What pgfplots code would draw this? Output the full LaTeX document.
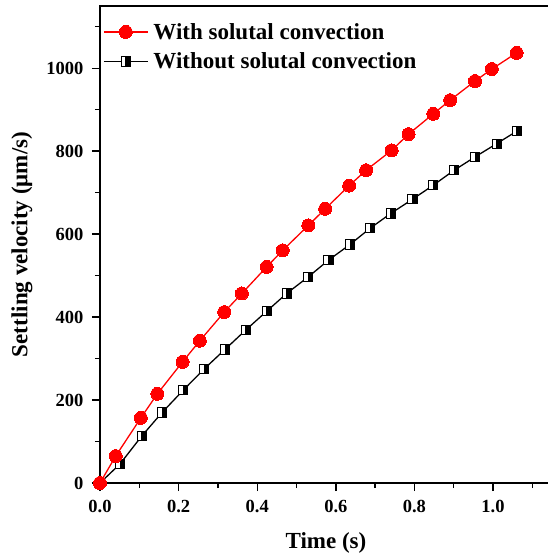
\documentclass[border=0pt]{standalone}
\usepackage{pgfplots}
\pgfplotsset{compat=1.18}
\usepackage{pgfplotstable}
\usepackage{fontspec}
\setmainfont{Liberation Serif}

\pgfdeclareplotmark{hsq}{%
  \pgfpathrectangle{\pgfqpoint{-\pgfplotmarksize}{-\pgfplotmarksize}}{\pgfqpoint{2\pgfplotmarksize}{2\pgfplotmarksize}}%
  \pgfsetfillcolor{white}\pgfusepathqfillstroke
  \pgfpathrectangle{\pgfqpoint{0pt}{-\pgfplotmarksize}}{\pgfqpoint{\pgfplotmarksize}{2\pgfplotmarksize}}%
  \pgfsetfillcolor{black}\pgfusepathqfillstroke
}

\pgfplotstableread{
t v
0.000 0
0.040 65
0.104 157
0.146 215
0.210 292
0.254 343
0.316 412
0.361 457
0.424 521
0.465 561
0.530 621
0.573 661
0.634 717
0.677 754
0.742 802
0.785 841
0.848 890
0.891 923
0.954 969
0.997 998
1.060 1037
}\withconv

\pgfplotstableread{
t v
0.000 0
0.051 46
0.106 113
0.158 170
0.212 224
0.265 275
0.318 322
0.371 369
0.424 414
0.475 457
0.530 497
0.581 537
0.636 575
0.687 614
0.740 650
0.795 684
0.848 718
0.901 754
0.954 786
1.009 818
1.060 848
}\withoutconv

\begin{document}
\begin{tikzpicture}
\begin{axis}[
  scale only axis, width=452pt, height=477pt,
  xmin=0, xmax=1.15, ymin=0, ymax=1150,
  xtick={0,0.2,0.4,0.6,0.8,1.0},
  minor xtick={0.1,0.3,0.5,0.7,0.9,1.1},
  ytick={0,200,400,600,800,1000},
  minor ytick={100,300,500,700,900,1100},
  tick align=outside, xtick pos=bottom, ytick pos=left,
  major tick length=8pt, minor tick length=5pt,
  axis line style={line width=1.4pt},
  tick style={black, line width=1.4pt},
  /pgf/number format/assume math mode=true,
  tick label style={font=\fontsize{18.5}{20}\selectfont\bfseries},
  x tick label style={yshift=-6pt, /pgf/number format/.cd, fixed, fixed zerofill, precision=1},
  y tick label style={xshift=-5pt, /pgf/number format/.cd, 1000 sep={}},
  xlabel={Time (s)},
  ylabel={Settling velocity (μm/s)},
  label style={font=\fontsize{23}{26}\selectfont\bfseries},
  x label style={at={(axis description cs:0.5,0)}, anchor=center, yshift=-60pt},
  y label style={at={(axis description cs:0,0.5)}, anchor=center, yshift=78pt},
  legend style={at={(axis description cs:0,1)}, anchor=north west, draw=none, fill=none,
    font=\fontsize{23}{26}\selectfont\bfseries, xshift=0pt, yshift=-13pt,
    row sep=8pt, column sep=3pt},
  legend cell align=left,
  reverse legend,
  legend image code/.code={\draw[mark repeat=2,mark phase=2] plot coordinates {(0pt,0pt) (22pt,0pt) (44pt,0pt)};},
]
\addplot[black, line width=1.3pt, mark=hsq, mark size=4.6pt, mark options={line width=0.9pt}] table[x=t, y=v] {\withoutconv};
\addlegendentry{Without solutal convection}
\addplot[red, line width=1.3pt, mark=*, mark size=6.5pt, mark options={fill=red, draw=red, line width=0pt}] table[x=t, y=v] {\withconv};
\addlegendentry{With solutal convection}
\coordinate (O) at (axis cs:0,0);
\end{axis}
\pgfresetboundingbox
\path ([shift={(-100pt,-77pt)}]O) rectangle ([shift={(448pt,483pt)}]O);
\end{tikzpicture}
\end{document}
